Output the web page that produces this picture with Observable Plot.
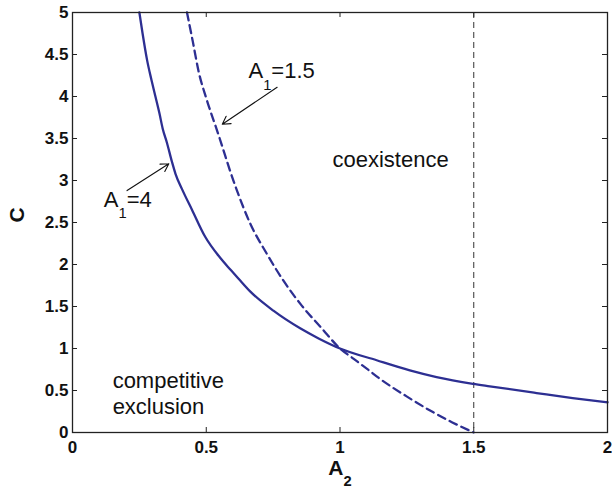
<!DOCTYPE html>
<html>
<head>
<meta charset="utf-8">
<script src="https://cdn.jsdelivr.net/npm/d3@7"></script>
<script src="https://cdn.jsdelivr.net/npm/@observablehq/plot@0.6"></script>
<style>
  html, body { margin: 0; padding: 0; background: #fff; }
  #chart svg { display: block; }
  #chart svg g[aria-label="x-axis tick label"],
  #chart svg g[aria-label="y-axis tick label"] { font-size: 17px; font-weight: bold; fill: #111; }
</style>
</head>
<body>
<div id="chart"></div>
<script>
// ---- data ----
const a2Solid = [0.250, 0.262, 0.279, 0.295, 0.310, 0.325, 0.337, 0.353, 0.372, 0.385, 0.409, 0.447, 0.496, 0.552, 0.590, 0.621, 0.664, 0.751, 0.851, 0.920, 1.000, 1.137, 1.261, 1.361, 1.497, 1.560, 1.735, 1.870, 2.000];
const cSolid  = [5.00, 4.75, 4.43, 4.20, 4.00, 3.80, 3.62, 3.45, 3.22, 3.08, 2.90, 2.65, 2.33, 2.08, 1.94, 1.83, 1.68, 1.45, 1.24, 1.12, 1.00, 0.86, 0.74, 0.66, 0.58, 0.55, 0.47, 0.41, 0.36];

const a2Dashed = [0.428, 0.450, 0.472, 0.500, 0.542, 0.608, 0.664, 0.726, 0.788, 0.857, 0.932, 1.000, 1.050, 1.100, 1.149, 1.249, 1.349, 1.420, 1.500];
const cDashed  = [5.00, 4.65, 4.29, 3.98, 3.58, 2.94, 2.49, 2.13, 1.81, 1.51, 1.24, 1.00, 0.88, 0.76, 0.64, 0.43, 0.24, 0.12, 0.00];

const boundaryA2 = [1.5];
const xTicks = [0, 0.5, 1, 1.5, 2];
const yTicks = [0, 0.5, 1, 1.5, 2, 2.5, 3, 3.5, 4, 4.5, 5];

const curveLabels = ["A_1=1.5", "A_1=4"];
const regionLabels = ["coexistence", "competitive\nexclusion"];
const xLabel = "A_2";
const yLabel = "C";

// ---- tables ----
const solid = a2Solid.map((a, i) => ({a, c: cSolid[i]}));
const dashed = a2Dashed.map((a, i) => ({a, c: cDashed[i]}));

const W = 612, H = 492;
const mT = 12, mR = 5, mB = 60, mL = 72;
const innerW = W - mL - mR, innerH = H - mT - mB;
const font = "'Liberation Sans', Arial, Helvetica, sans-serif";
const blue = "#2d2f92";

const plot = Plot.plot({
  width: W, height: H,
  marginTop: mT, marginRight: mR, marginBottom: mB, marginLeft: mL,
  x: {domain: [0, 2]},
  y: {domain: [0, 5]},
  style: {fontFamily: font, background: "#fff", color: "#111"},
  marks: [
    Plot.axisX({ticks: xTicks, tickSize: 0, tickPadding: 8, label: null, tickFormat: d => String(d)}),
    Plot.axisY({ticks: yTicks, tickSize: 0, tickPadding: 4, label: null, tickFormat: d => String(d)}),
    // inward ticks on all four sides
    Plot.tickX(xTicks, {x: d => d, insetTop: innerH - 5, stroke: "#222"}),
    Plot.tickX(xTicks, {x: d => d, insetBottom: innerH - 5, stroke: "#222"}),
    Plot.tickY(yTicks, {y: d => d, insetRight: innerW - 5, stroke: "#222"}),
    Plot.tickY(yTicks, {y: d => d, insetLeft: innerW - 5, stroke: "#222"}),
    Plot.ruleX(boundaryA2, {x: d => d, stroke: "#333", strokeWidth: 1, strokeDasharray: "6,4"}),
    Plot.line(dashed, {x: "a", y: "c", stroke: blue, strokeWidth: 2.3, strokeDasharray: "8,5", curve: "monotone-x"}),
    Plot.line(solid, {x: "a", y: "c", stroke: blue, strokeWidth: 2.3, curve: "monotone-x"}),
    // annotations
    Plot.arrow([curveLabels[0]], {x1: 0.765, y1: 4.11, x2: 0.560, y2: 3.67, stroke: "#111", strokeWidth: 1.1, headLength: 12}),
    Plot.arrow([curveLabels[1]], {x1: 0.204, y1: 2.88, x2: 0.360, y2: 3.20, stroke: "#111", strokeWidth: 1.1, headLength: 12}),
    Plot.text([curveLabels[0]], {x: 0.658, y: 4.30, text: d => d, textAnchor: "start", fontSize: 22, fill: "#111"}),
    Plot.text([curveLabels[1]], {x: 0.117, y: 2.77, text: d => d, textAnchor: "start", fontSize: 22, fill: "#111"}),
    Plot.text([regionLabels[0]], {x: 1.189, y: 3.24, text: d => d, textAnchor: "middle", fontSize: 22, fill: "#111"}),
    Plot.text([regionLabels[1]], {x: 0.150, y: 0.744, text: d => d, textAnchor: "start", lineAnchor: "top", lineHeight: 1.18, fontSize: 22, fill: "#111"}),
    // axis titles
    Plot.text([xLabel], {frameAnchor: "bottom", dy: 42, text: d => d, fontSize: 21, fontWeight: "bold", fill: "#111"}),
    Plot.text([yLabel], {frameAnchor: "left", dx: -55, rotate: -90, text: d => d, fontSize: 21, fontWeight: "bold", fill: "#111"}),
    Plot.frame({stroke: "#222", strokeWidth: 1.3})
  ]
});

// turn "X_n" into real subscripted text
d3.select(plot).selectAll("text").each(function() {
  const t = this.textContent;
  const m = t.match(/^(.*?)_(\d)(.*)$/);
  if (!m || this.querySelector("tspan")) return;
  const fs = parseFloat(this.getAttribute("font-size")) || 21;
  const el = d3.select(this);
  el.text(null);
  el.append("tspan").text(m[1]);
  el.append("tspan").attr("dy", 0.55 * fs).attr("font-size", 0.7 * fs).text(m[2]);
  if (m[3]) el.append("tspan").attr("dy", -0.55 * fs).text(m[3]);
});

document.getElementById("chart").append(plot);
</script>
</body>
</html>
